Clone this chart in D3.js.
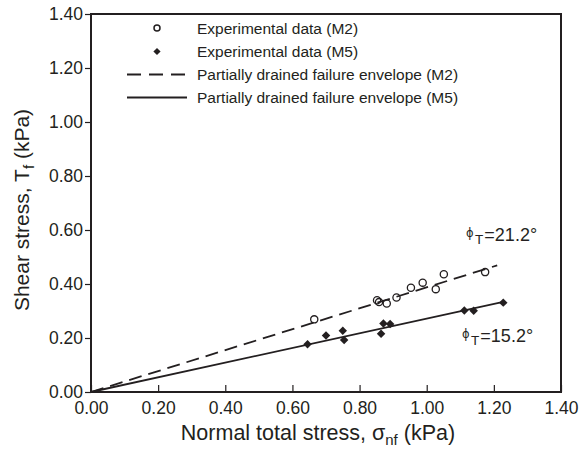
<!DOCTYPE html>
<html><head><meta charset="utf-8">
<script src="https://cdn.jsdelivr.net/npm/d3@7"></script>
<style>
html,body{margin:0;padding:0;background:#fff;}
text,tspan{font-family:"Liberation Sans",Arial,Helvetica,sans-serif;fill:#231f20;}
tspan.phi{font-family:"DejaVu Sans",sans-serif;}
</style></head>
<body><svg id="c" width="579" height="455"></svg>
<script>
// Data
const m2X = [0.665, 0.852, 0.858, 0.881, 0.910, 0.953, 0.988, 1.027, 1.051, 1.174];
const m2Y = [0.269, 0.340, 0.333, 0.328, 0.350, 0.386, 0.405, 0.381, 0.436, 0.444];
const m5X = [0.645, 0.700, 0.750, 0.754, 0.864, 0.871, 0.891, 1.112, 1.140, 1.228];
const m5Y = [0.177, 0.209, 0.227, 0.193, 0.216, 0.254, 0.252, 0.302, 0.301, 0.331];
const envM2X = [0, 1.21];
const envM2Y = [0, 0.469];
const envM5X = [0, 1.228];
const envM5Y = [0, 0.334];
const xTicks = [0, 0.2, 0.4, 0.6, 0.8, 1.0, 1.2, 1.4];
const yTicks = [0, 0.2, 0.4, 0.6, 0.8, 1.0, 1.2, 1.4];
const legendLabels = ["Experimental data (M2)", "Experimental data (M5)",
  "Partially drained failure envelope (M2)", "Partially drained failure envelope (M5)"];
const angleLabels = ["=21.2°", "=15.2°"];

const svg = d3.select("#c");
const L = 91, R = 561, T = 14, B = 392;
const ink = "#231f20";
const x = d3.scaleLinear().domain([0, 1.4]).range([L, R]);
const y = d3.scaleLinear().domain([0, 1.4]).range([B, T]);

// axes
const xAxis = d3.axisBottom(x).tickValues(xTicks).tickFormat(d3.format(".2f")).tickSizeInner(-7).tickSizeOuter(0).tickPadding(10);
const gx = svg.append("g").attr("transform", `translate(0,${B})`).call(xAxis);
const yAxis = d3.axisLeft(y).tickValues(yTicks).tickFormat(d3.format(".2f")).tickSizeInner(6).tickSizeOuter(0).tickPadding(2);
const gy = svg.append("g").attr("transform", `translate(${L},0)`).call(yAxis);
[gx, gy].forEach(g => {
  g.select(".domain").remove();
  g.selectAll(".tick line").attr("stroke", ink).attr("stroke-width", 1.2);
  g.selectAll(".tick text").style("font-size", "17.5px").attr("fill", ink);
});
gx.selectAll(".tick text").attr("dy", "0.71em");

// frame
svg.append("rect").attr("x", L).attr("y", T).attr("width", R - L).attr("height", B - T)
  .attr("fill", "none").attr("stroke", ink).attr("stroke-width", 2);

// envelopes
const line = d3.line().x(d => x(d[0])).y(d => y(d[1]));
svg.append("path").datum(envM2X.map((v, i) => [v, envM2Y[i]])).attr("d", line)
  .attr("fill", "none").attr("stroke", ink).attr("stroke-width", 1.8).attr("stroke-dasharray", "13,7");
svg.append("path").datum(envM5X.map((v, i) => [v, envM5Y[i]])).attr("d", line)
  .attr("fill", "none").attr("stroke", ink).attr("stroke-width", 1.8);

// points (diamonds = squares rotated 45°)
const sq = d3.symbol().type(d3.symbolSquare).size(36);
svg.append("g").selectAll("path").data(m5X.map((v, i) => [v, m5Y[i]])).join("path")
  .attr("d", sq).attr("transform", d => `translate(${x(d[0])},${y(d[1])}) rotate(45)`).attr("fill", ink);
svg.append("g").selectAll("circle").data(m2X.map((v, i) => [v, m2Y[i]])).join("circle")
  .attr("cx", d => x(d[0])).attr("cy", d => y(d[1])).attr("r", 3.6)
  .attr("fill", "none").attr("stroke", ink).attr("stroke-width", 1.3);

// legend
const rows = [28, 51.5, 74.5, 97.5];
const lg = svg.append("g");
lg.append("circle").attr("cx", 157).attr("cy", rows[0]).attr("r", 3).attr("fill", "#fff").attr("stroke", ink).attr("stroke-width", 1.5);
lg.append("path").attr("d", d3.symbol().type(d3.symbolSquare).size(26)).attr("transform", `translate(157,${rows[1]}) rotate(45)`).attr("fill", ink);
lg.append("line").attr("x1", 127).attr("x2", 187).attr("y1", rows[2]).attr("y2", rows[2]).attr("stroke", ink).attr("stroke-width", 1.8).attr("stroke-dasharray", "14,8");
lg.append("line").attr("x1", 127).attr("x2", 187).attr("y1", rows[3]).attr("y2", rows[3]).attr("stroke", ink).attr("stroke-width", 1.8);
lg.selectAll("text").data(legendLabels).join("text")
  .attr("x", 197).attr("y", (d, i) => rows[i] + 5.5).attr("fill", ink).style("font-size", "15.5px").text(d => d);

// angle labels
function angleLabel(x0, yb, val) {
  const t = svg.append("text").attr("x", x0).attr("y", yb).attr("fill", ink)
    .style("font-size", "18px").style("opacity", 0.99);
  t.append("tspan").attr("class", "phi").text("ϕ").attr("fill", ink).style("font-size", "11.5px").attr("dy", "-4");
  t.append("tspan").text("T").attr("fill", ink).style("font-size", "13.5px").attr("dx", "1.5").attr("dy", "7.5");
  t.append("tspan").text(val).attr("fill", ink).attr("dx", "1").attr("dy", "-3.5");
}
angleLabel(466, 240.5, angleLabels[0]);
angleLabel(462, 341.5, angleLabels[1]);

// axis titles
const xt = svg.append("text").attr("x", 318).attr("y", 440).attr("text-anchor", "middle").attr("fill", ink).style("font-size", "21.5px");
xt.append("tspan").text("Normal total stress, σ");
xt.append("tspan").text("nf").style("font-size", "15px").attr("dy", "5");
xt.append("tspan").text(" (kPa)").attr("dy", "-5");

const yt = svg.append("text").attr("transform", `translate(29,210) rotate(-90)`).attr("text-anchor", "middle").attr("fill", ink).style("font-size", "21px");
yt.append("tspan").text("Shear stress, T");
yt.append("tspan").text("f").style("font-size", "15px").attr("dy", "5");
yt.append("tspan").text(" (kPa)").attr("dy", "-5");
</script></body></html>
